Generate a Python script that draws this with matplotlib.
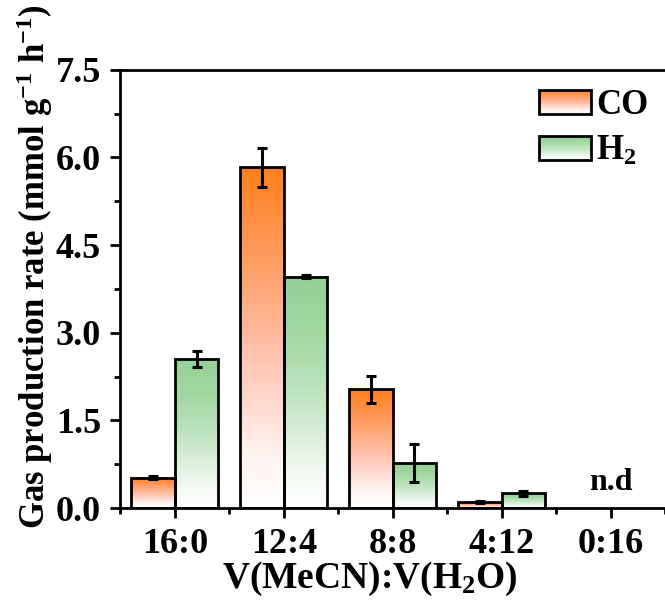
import numpy as np
import matplotlib
matplotlib.use("Agg")
import matplotlib.pyplot as plt
from matplotlib.colors import LinearSegmentedColormap
from matplotlib.patches import Rectangle
from matplotlib.legend_handler import HandlerBase
from matplotlib.ticker import FixedLocator

plt.rcParams['font.family'] = ['Liberation Serif', 'DejaVu Serif']
plt.rcParams['font.weight'] = 'bold'
plt.rcParams['mathtext.fontset'] = 'custom'
plt.rcParams['mathtext.rm'] = 'Liberation Serif:bold'
plt.rcParams['mathtext.bf'] = 'Liberation Serif:bold'
plt.rcParams['mathtext.it'] = 'Liberation Serif:bold:italic'

categories = ['16:0', '12:4', '8:8', '4:12', '0:16']
co_values = [0.52, 5.83, 2.03, 0.10, 0.0]
co_errors = [0.03, 0.33, 0.23, 0.02, 0.0]
h2_values = [2.55, 3.96, 0.77, 0.25, 0.0]
h2_errors = [0.14, 0.03, 0.32, 0.04, 0.0]
series_names = ['CO', 'H$_2$']
yticks = [0.0, 1.5, 3.0, 4.5, 6.0, 7.5]

# gradient stops (position, colour) from bottom (white) to top
co_stops = [(0.0, '#FFFFFF'), (0.15, '#FFF4F0'), (0.45, '#FFC2AE'),
            (0.75, '#FF9A5C'), (1.0, '#FF7F1E')]
h2_stops = [(0.0, '#FFFFFF'), (0.15, '#F2F9F2'), (0.45, '#C5E6C5'),
            (0.75, '#A2D7A2'), (1.0, '#96D196')]

fig = plt.figure(figsize=(6.65, 6.02), dpi=100)
ax = fig.add_axes([0.181, 0.156, 0.819, 0.728])

x = np.arange(1, len(categories) + 1)
w = 0.4

grad = np.linspace(0, 1, 256).reshape(-1, 1)

for vals, errs, offs, stops in [(co_values, co_errors, -w / 2, co_stops),
                                (h2_values, h2_errors, w / 2, h2_stops)]:
    mask = [v > 0 for v in vals]
    xs = x[mask] + offs
    vs = np.array(vals)[mask]
    es = np.array(errs)[mask]
    bars = ax.bar(xs, vs, width=w, facecolor='none', edgecolor='black',
                  linewidth=2, zorder=3)
    cm = LinearSegmentedColormap.from_list('g', stops)
    for b in bars:
        bx, by = b.get_x(), b.get_y()
        bw, bh = b.get_width(), b.get_height()
        ax.imshow(grad, cmap=cm, aspect='auto', origin='lower',
                  extent=(bx, bx + bw, by, by + bh), zorder=2,
                  interpolation='bilinear')
    ax.errorbar(xs, vs, yerr=es, fmt='none', ecolor='black', elinewidth=2.2,
                capsize=3.8, capthick=2.2, zorder=4)

ax.text(5, 0.43, 'n.d', ha='center', va='center', fontsize=23, fontweight='bold')

ax.set_xlim(0.5, 5.5)
ax.set_ylim(0, 7.5)
ax.set_xticks(x)
ax.set_xticklabels(categories)
ax.xaxis.set_minor_locator(FixedLocator(np.arange(0.5, 6.0, 1.0)))
ax.yaxis.set_major_locator(FixedLocator(yticks))
ax.set_yticklabels(['%.1f' % v for v in yticks])
ax.yaxis.set_minor_locator(FixedLocator(np.arange(0.75, 7.5, 1.5)))

ax.tick_params(axis='both', which='major', direction='out', length=7, width=2,
               labelsize=26, pad=7)
ax.tick_params(axis='both', which='minor', direction='out', length=4.5, width=2)
for s in ['left', 'bottom', 'top']:
    ax.spines[s].set_linewidth(2)
ax.spines['right'].set_visible(False)

ax.set_xlabel('V(MeCN):V(H$_2$O)', fontsize=27, fontweight='bold')
ax.xaxis.set_label_coords(0.459, -0.118)
ax.set_ylabel('Gas production rate (mmol g$^{-1}$ h$^{-1}$)', fontsize=25,
              fontweight='bold')
ax.yaxis.set_label_coords(-0.12, 0.55)


class GradHandler(HandlerBase):
    def __init__(self, stops):
        super().__init__()
        self.cmap = LinearSegmentedColormap.from_list('h', stops)

    def create_artists(self, legend, orig_handle, xdescent, ydescent, width,
                       height, fontsize, trans):
        arts = []
        n = 30
        for i in range(n):
            f = (i + 0.5) / n
            col = self.cmap(f)
            r = Rectangle((-xdescent, -ydescent + height * i / n),
                          width, height / n * 1.05, facecolor=col,
                          edgecolor='none', transform=trans)
            arts.append(r)
        border = Rectangle((-xdescent, -ydescent), width, height,
                           facecolor='none', edgecolor='black', linewidth=2,
                           transform=trans)
        arts.append(border)
        return arts


h_co = Rectangle((0, 0), 1, 1)
h_h2 = Rectangle((0, 0), 1, 1)
ax.legend([h_co, h_h2], series_names, loc='upper right', frameon=False,
          fontsize=25, handlelength=1.5, handleheight=0.7, labelspacing=0.37,
          handletextpad=0.15, borderaxespad=0.0, borderpad=0.0,
          bbox_to_anchor=(0.97, 0.956),
          handler_map={h_co: GradHandler(co_stops), h_h2: GradHandler(h2_stops)})

fig.savefig('out.png', dpi=100)
